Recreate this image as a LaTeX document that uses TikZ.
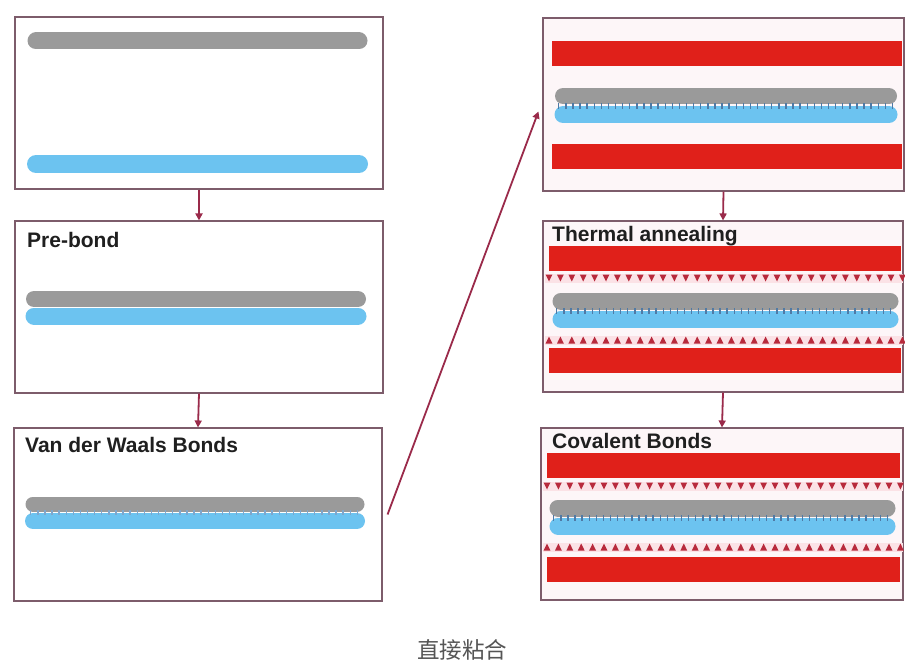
\documentclass[tikz,border=0pt]{standalone}
\usepackage{fontspec}
\setmainfont{Liberation Sans}
\newfontfamily\cjk{Noto Sans CJK SC}
\usetikzlibrary{arrows.meta}
\definecolor{frame}{HTML}{7D5C6B}
\definecolor{barGray}{HTML}{9A9A9A}
\definecolor{barBlue}{HTML}{6CC3F0}
\definecolor{barRed}{HTML}{E0201A}
\definecolor{arrowRed}{HTML}{9A2A4A}
\definecolor{triRed}{HTML}{B82A3C}
\definecolor{tickBlue}{HTML}{4F7AA6}
\definecolor{tickLight}{HTML}{7FA6CC}
\definecolor{pinkBand}{HTML}{FBE2E6}
\definecolor{panelPink}{HTML}{FDF6F8}
\definecolor{capGray}{HTML}{555555}
\begin{document}
\begin{tikzpicture}[x=1pt,y=-1pt,
  panel/.style={draw=frame,line width=1.1pt,fill=white,inner sep=0pt,minimum width=368pt,minimum height=172pt},
  rpanel/.style={panel,fill=panelPink},
  conn/.style={draw=arrowRed,line width=1.8pt,-{Triangle[length=7pt,width=7pt]}},
  graybar/.style={draw=barGray,line cap=round},
  bluebar/.style={draw=barBlue,line cap=round},
  redbar/.style={fill=barRed},
  title/.style={anchor=west,inner sep=0pt,font=\fontsize{21}{24}\selectfont\bfseries,text=black!88},
  ticks/.style={draw=tickBlue,line width=6pt,dash pattern=on 1.4pt off 5.7pt},
  lticks/.style={draw=tickLight,line width=5pt,dash pattern=on 1.4pt off 5.7pt},
  band/.style={draw=pinkBand,line width=9pt}
]
\useasboundingbox (0,0) rectangle (905,661);
\fill[white] (0,0) rectangle (905,661);

% panels
\node[panel] (b1) at (199,103) {};
\node[panel] (b2) at (199,307) {};
\node[panel,minimum height=173pt] (b3) at (198,514.5) {};
\node[rpanel,minimum width=361pt,minimum height=173pt] (b4) at (723.5,104.5) {};
\node[rpanel,minimum width=360pt,minimum height=171pt] (b5) at (723,306.5) {};
\node[rpanel,minimum width=362pt,minimum height=172pt] (b6) at (722,514) {};

% panel 1
\draw[graybar,line width=17pt] (36,41) -- (359,41);
\draw[bluebar,line width=18pt] (36,164) -- (359,164);

% panel 2
\node[title] (t2) at (27,240) {Pre-bond};
\draw[graybar,line width=16pt] (34,299) -- (358,299);
\draw[bluebar,line width=17pt] (34,316) -- (358,316);

% panel 3
\node[title] (t3) at (25,445) {Van der Waals Bonds};
\draw[bluebar,line width=16pt] (33,521) -- (357,521);
\draw[graybar,line width=15pt] (33,504) -- (357,504);
\draw[lticks] (30,512.5) -- (360,512.5);

% panel 4
\fill[redbar] (552,41) rectangle (902,66);
\draw[bluebar,line width=17pt] (563,114.5) -- (889,114.5);
\draw[graybar,line width=16pt] (563,96) -- (889,96);
\draw[ticks] (558,105.5) -- (894,105.5);
\fill[redbar] (552,144) rectangle (902,169);

% panel 5
\node[title] (t5) at (552,236) {Thermal annealing};
\fill[redbar] (549,246) rectangle (901,271);
\draw[band] (545,278) -- (903,278);
\foreach \i in {0,...,31} \fill[triRed] ({549+\i*11.4-3.4},274.5) -- ({549+\i*11.4+3.4},274.5) -- ({549+\i*11.4},281.5) -- cycle;
\draw[bluebar,line width=17pt] (561,319) -- (890,319);
\draw[graybar,line width=17pt] (561,301) -- (890,301);
\draw[ticks] (556,310.5) -- (895,310.5);
\draw[band] (545,340) -- (903,340);
\foreach \i in {0,...,31} \fill[triRed] ({549+\i*11.4-3.4},343.5) -- ({549+\i*11.4+3.4},343.5) -- ({549+\i*11.4},336.5) -- cycle;
\fill[redbar] (549,348) rectangle (901,373);

% panel 6
\node[title] (t6) at (552,441) {Covalent Bonds};
\fill[redbar] (547,453) rectangle (900,478);
\draw[band] (543,486) -- (903,486);
\foreach \i in {0,...,31} \fill[triRed] ({547+\i*11.4-3.4},482.5) -- ({547+\i*11.4+3.4},482.5) -- ({547+\i*11.4},489.5) -- cycle;
\draw[bluebar,line width=17pt] (558,526) -- (887,526);
\draw[graybar,line width=17pt] (558,508) -- (887,508);
\draw[ticks] (553,517.5) -- (892,517.5);
\draw[band] (543,547) -- (903,547);
\foreach \i in {0,...,31} \fill[triRed] ({547+\i*11.4-3.4},550.5) -- ({547+\i*11.4+3.4},550.5) -- ({547+\i*11.4},543.5) -- cycle;
\fill[redbar] (547,557) rectangle (900,582);

% connectors
\draw[conn] (b1.south) -- (b2.north);
\draw[conn] (b2.south) -- (b3.north);
\draw[conn] ([xshift=5pt]b3.east) -- ([xshift=-4pt,yshift=-7pt]b4.west);
\draw[conn] (b4.south) -- (b5.north);
\draw[conn] (b5.south) -- (b6.north);

% caption
\node[font=\cjk\fontsize{22.5}{26}\selectfont,text=capGray,inner sep=0pt] (cap) at (462,650) {直接粘合};
\end{tikzpicture}
\end{document}
